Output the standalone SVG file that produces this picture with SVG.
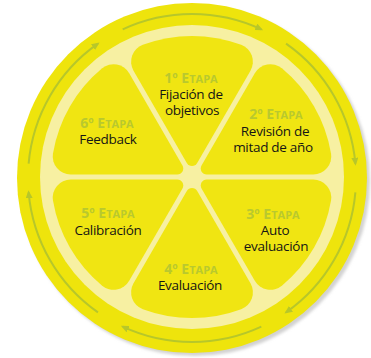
<svg xmlns="http://www.w3.org/2000/svg" xmlns:xlink="http://www.w3.org/1999/xlink" width="371" height="358" viewBox="0 0 371 358">
  <defs>
    <filter id="soft" x="-10%" y="-10%" width="120%" height="120%">
      <feGaussianBlur stdDeviation="1.5"/>
    </filter>
    <!-- one lemon wedge, pointing up, origin at the lemon centre -->
    <path id="wedge" d="M -5.196,-14 L -58.475,-106.28 A 18 18 0 0 1 -49.163,-132.15 A 141 141 0 0 1 49.163,-132.15 A 18 18 0 0 1 58.475,-106.28 L 5.196,-14 A 6 6 0 0 1 -5.196,-14 Z"/>
    <marker id="head" viewBox="0 0 8 7" refX="6" refY="3.5" markerWidth="8" markerHeight="7" markerUnits="userSpaceOnUse" orient="auto">
      <path d="M0,0 L8,3.5 L0,7 Z" fill="#B7C72A"/>
    </marker>
  </defs>
  <style>
    .wedge { fill: #F0E512; }
    .stage { font-family: "Open Sans", "Noto Sans", sans-serif; font-weight: bold; font-size: 14px; fill: #B9C92E; text-anchor: middle; }
    .stage .sc { font-size: 11px; }
    .label { font-family: "Open Sans", "Noto Sans", sans-serif; font-weight: 500; font-size: 13.5px; fill: #151515; text-anchor: middle; letter-spacing: -0.3px; }
    .cycle { fill: none; stroke: #B7C72A; stroke-width: 2; marker-end: url(#head); }
  </style>

  <!-- rind, pith and shadow -->
  <g id="lemon">
    <circle cx="195" cy="181" r="175" fill="#D2D2D2" filter="url(#soft)"/>
    <circle cx="192" cy="178" r="175" fill="#EEE40C"/>
    <circle cx="192" cy="177" r="152" fill="#F7F0A2"/>
  </g>

  <!-- clockwise cycle arrows in the rind -->
  <g id="connectors">
    <path class="cycle" d="M122.69,29.37 A164 164 0 0 1 261.31,29.37"/>
    <path class="cycle" d="M286.07,43.66 A164 164 0 0 1 355.38,163.71"/>
    <path class="cycle" d="M355.38,192.29 A164 164 0 0 1 286.07,312.34"/>
    <path class="cycle" d="M261.31,326.63 A164 164 0 0 1 122.69,326.63"/>
    <path class="cycle" d="M97.93,312.34 A164 164 0 0 1 28.62,192.29"/>
    <path class="cycle" d="M28.62,163.71 A164 164 0 0 1 97.93,43.66"/>
  </g>

  <g id="stage1">
    <use xlink:href="#wedge" class="wedge" transform="translate(192 177) rotate(0)"/>
    <text class="stage" x="191" y="83">1º E<tspan class="sc">TAPA</tspan></text>
    <text class="label" x="191" y="99">Fijación de</text>
    <text class="label" x="192" y="114.5">objetivos</text>
  </g>

  <g id="stage2">
    <use xlink:href="#wedge" class="wedge" transform="translate(192 177) rotate(60)"/>
    <text class="stage" x="276" y="119">2º E<tspan class="sc">TAPA</tspan></text>
    <text class="label" x="275" y="136">Revisión de</text>
    <text class="label" x="273" y="152">mitad de año</text>
  </g>

  <g id="stage3">
    <use xlink:href="#wedge" class="wedge" transform="translate(192 177) rotate(120)"/>
    <text class="stage" x="273" y="219">3º E<tspan class="sc">TAPA</tspan></text>
    <text class="label" x="275" y="235">Auto</text>
    <text class="label" x="276" y="251">evaluación</text>
  </g>

  <g id="stage4">
    <use xlink:href="#wedge" class="wedge" transform="translate(192 177) rotate(180)"/>
    <text class="stage" x="191" y="274">4º E<tspan class="sc">TAPA</tspan></text>
    <text class="label" x="190" y="290">Evaluación</text>
  </g>

  <g id="stage5">
    <use xlink:href="#wedge" class="wedge" transform="translate(192 177) rotate(240)"/>
    <text class="stage" x="108" y="218">5º E<tspan class="sc">TAPA</tspan></text>
    <text class="label" x="108" y="235">Calibración</text>
  </g>

  <g id="stage6">
    <use xlink:href="#wedge" class="wedge" transform="translate(192 177) rotate(300)"/>
    <text class="stage" x="107" y="128">6º E<tspan class="sc">TAPA</tspan></text>
    <text class="label" x="108" y="144">Feedback</text>
  </g>
</svg>
